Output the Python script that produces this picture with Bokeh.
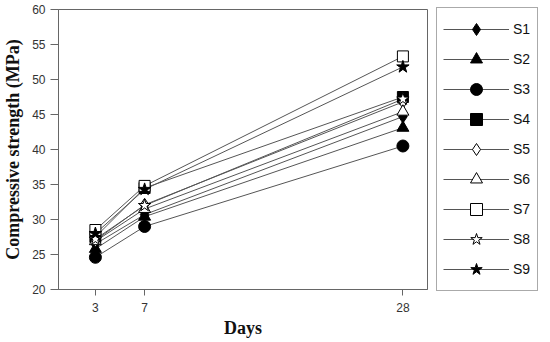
from bokeh.plotting import figure
from bokeh.models import Legend, LegendItem, FixedTicker, Range1d
from bokeh.embed import file_html
from bokeh.resources import INLINE

days = [3, 7, 28]
series_names = ["S1", "S2", "S3", "S4", "S5", "S6", "S7", "S8", "S9"]
s1 = [26.5, 30.7, 44.7]
s2 = [25.8, 30.4, 43.1]
s3 = [24.6, 29.0, 40.5]
s4 = [27.5, 34.5, 47.5]
s5 = [27.0, 32.1, 46.8]
s6 = [26.9, 31.5, 45.4]
s7 = [28.5, 34.8, 53.3]
s8 = [27.2, 32.0, 47.2]
s9 = [28.0, 34.3, 51.8]
values = [s1, s2, s3, s4, s5, s6, s7, s8, s9]
markers = ["diamond", "triangle", "circle", "square", "diamond", "triangle", "square", "star", "star"]
filled = [True, True, True, True, False, False, False, False, True]
sizes = [13, 12, 12, 11, 13, 12, 11, 13, 13]
x_ticks = [3, 7, 28]

p = figure(frame_width=369, frame_height=280, output_backend="svg", toolbar_location=None,
           x_range=Range1d(0, 30), y_range=Range1d(20, 60),
           min_border_left=54, min_border_top=9, min_border_bottom=40, min_border_right=0)
p.background_fill_color = "white"
p.border_fill_color = "white"
p.outline_line_color = "#666666"
p.outline_line_width = 1
p.grid.visible = False

axis_color = "#666666"
for ax in (p.xaxis[0], p.yaxis[0]):
    ax.axis_line_color = axis_color
    ax.major_tick_line_color = axis_color
    ax.minor_tick_line_color = None
    ax.major_tick_in = 0
    ax.major_label_text_font = "Liberation Sans"
    ax.major_label_text_font_size = "12px"
    ax.major_label_text_color = "#333333"
    ax.axis_label_text_font = "Liberation Serif"
    ax.axis_label_text_font_style = "bold"
    ax.axis_label_text_font_size = "18px"
    ax.axis_label_text_color = "#111111"

p.xaxis.ticker = FixedTicker(ticks=x_ticks)
p.xaxis.major_tick_out = 6
p.xaxis.major_label_standoff = 7
p.xaxis.axis_label = "Days"
p.xaxis.axis_label_standoff = 3
p.yaxis.ticker = FixedTicker(ticks=[20, 25, 30, 35, 40, 45, 50, 55, 60])
p.yaxis.major_tick_out = 8
p.yaxis.major_label_standoff = 5
p.yaxis.axis_label = "Compressive strength (MPa)"
p.yaxis.axis_label_standoff = 6

items = []
line_renderers = []
for name, vals in zip(series_names, values):
    lr = p.line(days, vals, line_color="#555555", line_width=1)
    line_renderers.append(lr)
for name, vals, mk, f, sz, lr in zip(series_names, values, markers, filled, sizes, line_renderers):
    sr = p.scatter(days, vals, marker=mk, size=sz,
                   fill_color="black" if f else "white",
                   line_color="black", line_width=1)
    items.append(LegendItem(label=name, renderers=[lr, sr]))

legend = Legend(items=items, location="center_left")
legend.margin = 9
legend.padding = 6
legend.spacing = 0
legend.glyph_height = 30
legend.glyph_width = 66
legend.label_height = 30
legend.label_standoff = 4
legend.label_width = 18
legend.label_text_font = "Liberation Sans"
legend.label_text_font_size = "14px"
legend.label_text_color = "#111111"
legend.border_line_color = "#555555"
legend.border_line_width = 1
legend.background_fill_color = "white"
p.add_layout(legend, "right")

open("out.html", "w").write(file_html(p, INLINE))
